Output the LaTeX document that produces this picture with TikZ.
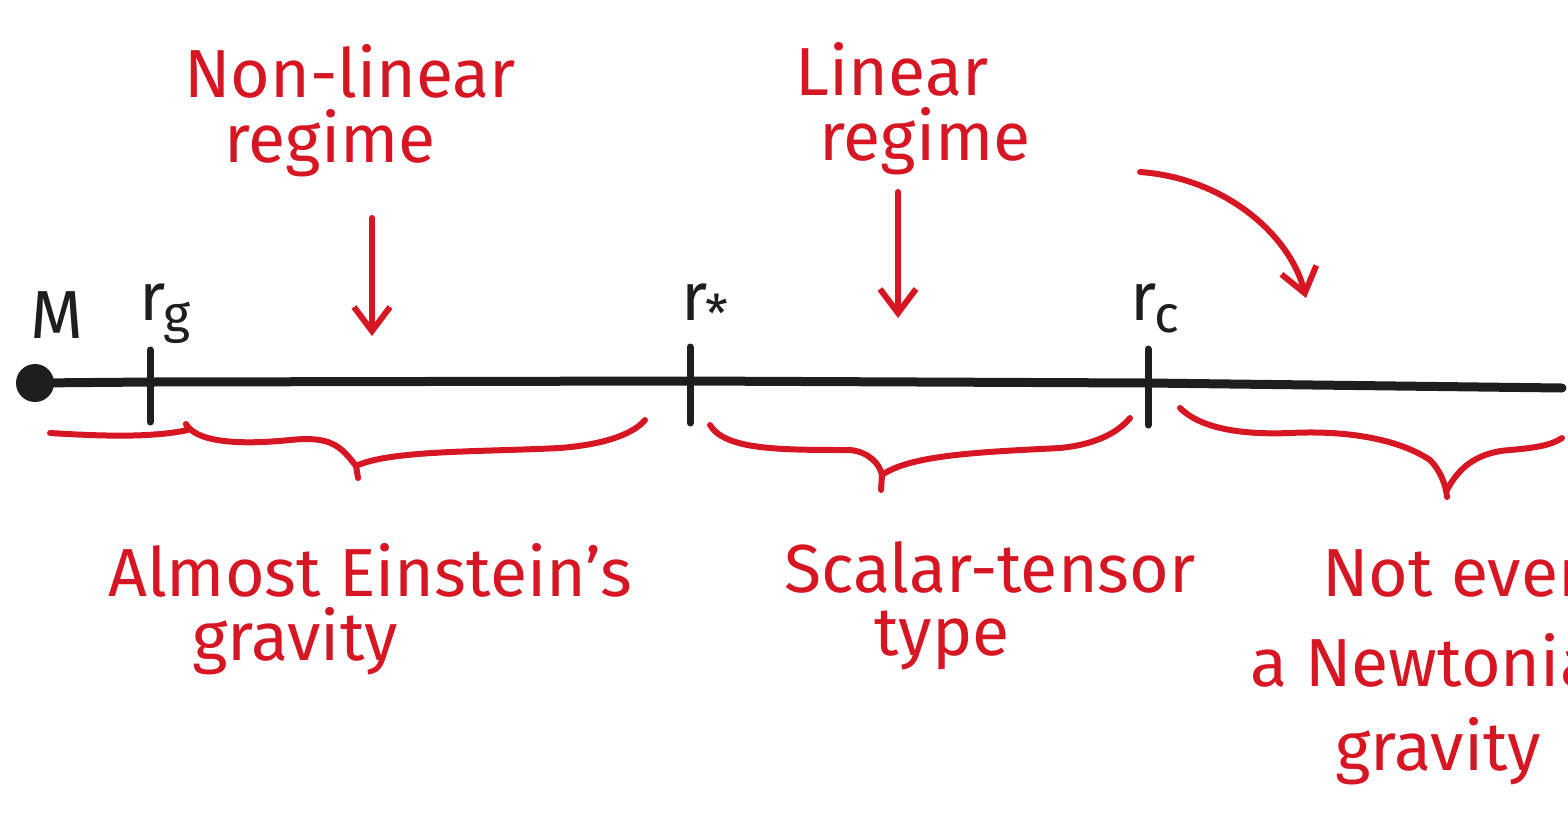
\documentclass[tikz,border=0pt]{standalone}
\usepackage{fontspec}
\setmainfont{Fira Sans}
\usetikzlibrary{arrows.meta}
\definecolor{handred}{RGB}{214,22,34}
\definecolor{ink}{RGB}{30,30,30}
\tikzset{
  redtxt/.style={text=handred, font=\fontsize{34}{40}\selectfont, inner sep=0pt, anchor=base},
  blk/.style={text=ink, font=\fontsize{34}{40}\selectfont, inner sep=0pt, anchor=base},
  redline/.style={draw=handred, line width=3pt, line cap=round, line join=round},
  arr/.style={redline, -{Straight Barb[length=12pt,width=18pt,line width=3pt]}},
  axisline/.style={draw=ink, line width=4.5pt, line cap=round},
  tickmark/.style={draw=ink, line width=3.5pt, line cap=round}
}
\begin{document}
\begin{tikzpicture}[x=0.5pt,y=-0.5pt]
\useasboundingbox (0,0) rectangle (1568,815);
\clip (0,0) rectangle (1568,815);
% top labels
\node[redtxt] (nl1) at (350,97) {Non-linear};
\node[redtxt] (nl2) at (330,162) {regime};
\node[redtxt] (l1) at (892,95) {Linear};
\node[redtxt] (l2) at (925,160) {regime};
% arrows
\coordinate (a1s) at (372,218);
\coordinate (a1e) at (372,336);
\coordinate (a2s) at (898,192);
\coordinate (a2e) at (898,318);
\coordinate (a3s) at (1140,172);
\coordinate (a3e) at (1306,298);
\draw[arr] (a1s) -- (a1e);
\draw[arr] (a2s) -- (a2e);
\draw[arr] (a3s) .. controls (1225,178) and (1290,235) .. (a3e);
% axis
\coordinate (mass) at (35,383);
\coordinate (axend) at (1562,388);
\draw[axisline] (mass) -- (150,382) -- (690,381) -- (1148,383) -- (axend);
\fill[ink] (mass) circle (19);
\coordinate (tg) at (150,382);
\coordinate (ts) at (690,379);
\coordinate (tc) at (1148,381);
\draw[tickmark] ([yshift=-20]tg) -- ([yshift=16]tg);
\draw[tickmark] ([yshift=-22]ts) -- ([yshift=16]ts);
\draw[tickmark] ([yshift=-22]tc) -- ([yshift=16]tc);
% axis labels
\node[blk] (M) at (57,338) {M};
\node[blk] (rg) at (165,320) {r\kern-1pt\raisebox{-6pt}{\fontsize{26}{30}\selectfont g}};
\node[blk] (rs) at (705,320) {r\kern-1pt\raisebox{-6pt}{\fontsize{26}{30}\selectfont *}};
\node[blk] (rc) at (1155,320) {r\kern-1pt\raisebox{-6pt}{\fontsize{26}{30}\selectfont c}};
% braces
\draw[redline] (50,433) .. controls (100,436) and (150,438) .. (188,430)
  -- (186,424) .. controls (195,440) and (230,446) .. (290,440)
  .. controls (330,436) and (340,445) .. (356,466) -- (358,478);
\draw[redline] (356,466) .. controls (390,450) and (480,452) .. (560,448)
  .. controls (610,444) and (635,432) .. (645,420);
\draw[redline] (710,425) .. controls (725,450) and (780,450) .. (850,450)
  .. controls (870,452) and (880,465) .. (882,475) -- (881,490);
\draw[redline] (882,475) .. controls (910,455) and (980,452) .. (1060,448)
  .. controls (1100,444) and (1120,430) .. (1130,418);
\draw[redline] (1180,408) .. controls (1200,428) and (1240,435) .. (1290,433)
  .. controls (1350,430) and (1400,440) .. (1430,460)
  .. controls (1440,470) and (1446,485) .. (1447,497);
\draw[redline] (1447,490) .. controls (1460,465) and (1480,452) .. (1510,450)
  .. controls (1535,448) and (1552,445) .. (1562,438);
% bottom labels
\node[redtxt] (ae1) at (370,596) {Almost Einstein's};
\node[redtxt] (ae2) at (295,660) {gravity};
\node[redtxt] (st1) at (990,592) {Scalar-tensor};
\node[redtxt] (st2) at (942,655) {type};
\node[redtxt, anchor=base west] (ne1) at (1322,596) {Not even};
\node[redtxt, anchor=base west] (ne2) at (1250,686) {a Newtonian};
\node[redtxt, anchor=base west] (ne3) at (1335,770) {gravity};
\end{tikzpicture}
\end{document}
